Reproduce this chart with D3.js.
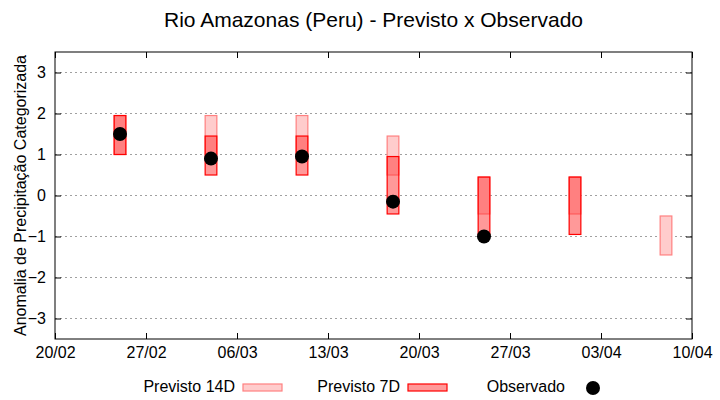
<!DOCTYPE html>
<html>
<head>
<meta charset="utf-8">
<script src="https://cdn.jsdelivr.net/npm/d3@7"></script>
<style>
  body { margin: 0; background: #fff; }
  text { font-family: "Liberation Sans", Arial, sans-serif; }
</style>
</head>
<body>
<div class="chart"></div>
<script>
// semanas (centro de cada caixa)
const dates = ['2023-02-25', '2023-03-04', '2023-03-11', '2023-03-18', '2023-03-25', '2023-04-01', '2023-04-08'];
// previsao 14 dias: limites inferior / superior
const lo14 = [1.0, 1.0, 1.0, 0.5, -0.45, -0.45, -1.45];
const hi14 = [1.95, 1.95, 1.95, 1.45, 0.45, 0.45, -0.5];
// previsao 7 dias
const lo7 = [1.0, 0.5, 0.5, -0.45, -0.95, -0.95, null];
const hi7 = [1.95, 1.45, 1.45, 0.95, 0.45, 0.45, null];
// observado
const obs = [1.5, 0.9, 0.95, -0.15, -1.0, null, null];

const tickDates = ['2023-02-20', '2023-02-27', '2023-03-06', '2023-03-13', '2023-03-20', '2023-03-27', '2023-04-03', '2023-04-10'];
const yTicks = [-3, -2, -1, 0, 1, 2, 3];

const parse = d3.timeParse('%Y-%m-%d');

const data = dates.map((d, i) => ({
  date: parse(d),
  lo14: lo14[i], hi14: hi14[i],
  lo7: lo7[i], hi7: hi7[i],
  obs: obs[i],
}));

const width = 720;
const height = 400;
const margin = { top: 52, right: 28, bottom: 61, left: 55 };

const svg = d3
  .select('.chart')
  .append('svg')
  .attr('width', width)
  .attr('height', height);

const x = d3
  .scaleTime()
  .domain([parse(tickDates[0]), parse(tickDates[tickDates.length - 1])])
  .range([margin.left, width - margin.right]);

const y = d3
  .scaleLinear()
  .domain([-3.5, 3.5])
  .range([height - margin.bottom, margin.top]);

const halfDay = 0.45 * 24 * 3600 * 1000;

// grade
svg
  .append('g')
  .selectAll('line')
  .data(yTicks)
  .enter()
  .append('line')
  .attr('x1', margin.left)
  .attr('x2', width - margin.right)
  .attr('y1', (d) => y(d))
  .attr('y2', (d) => y(d))
  .attr('stroke', '#a0a0a0')
  .attr('stroke-width', 1)
  .attr('stroke-dasharray', '2,3');

// previsto 14D
svg
  .append('g')
  .selectAll('rect')
  .data(data.filter((d) => d.lo14 != null))
  .enter()
  .append('rect')
  .attr('x', (d) => x(new Date(+d.date - halfDay)))
  .attr('width', (d) => x(new Date(+d.date + halfDay)) - x(new Date(+d.date - halfDay)))
  .attr('y', (d) => y(d.hi14))
  .attr('height', (d) => y(d.lo14) - y(d.hi14))
  .attr('fill', '#ffcccc')
  .attr('stroke', '#ff8080')
  .attr('stroke-width', 1.2);

// previsto 7D
svg
  .append('g')
  .selectAll('rect')
  .data(data.filter((d) => d.lo7 != null))
  .enter()
  .append('rect')
  .attr('x', (d) => x(new Date(+d.date - halfDay)))
  .attr('width', (d) => x(new Date(+d.date + halfDay)) - x(new Date(+d.date - halfDay)))
  .attr('y', (d) => y(d.hi7))
  .attr('height', (d) => y(d.lo7) - y(d.hi7))
  .attr('fill', 'rgba(255,55,55,0.51)')
  .attr('stroke', '#ff0000')
  .attr('stroke-width', 1.2);

// observado
svg
  .append('g')
  .selectAll('circle')
  .data(data.filter((d) => d.obs != null))
  .enter()
  .append('circle')
  .attr('cx', (d) => x(d.date))
  .attr('cy', (d) => y(d.obs))
  .attr('r', 7)
  .attr('fill', '#000');

// eixos
const fmt = d3.timeFormat('%d/%m');
const xTickVals = tickDates.map(parse);

svg
  .append('g')
  .attr('transform', `translate(0,${height - margin.bottom})`)
  .call(d3.axisBottom(x).tickValues(xTickVals).tickFormat(fmt).tickSizeInner(-6).tickSizeOuter(0).tickPadding(8));

svg
  .append('g')
  .attr('transform', `translate(0,${margin.top})`)
  .call(d3.axisTop(x).tickValues(xTickVals).tickFormat('').tickSizeInner(-6).tickSizeOuter(0));

svg
  .append('g')
  .attr('transform', `translate(${margin.left},0)`)
  .call(d3.axisLeft(y).tickValues(yTicks).tickFormat(d3.format('d')).tickSizeInner(-6).tickSizeOuter(0).tickPadding(9));

svg
  .append('g')
  .attr('transform', `translate(${width - margin.right},0)`)
  .call(d3.axisRight(y).tickValues(yTicks).tickFormat('').tickSizeInner(-6).tickSizeOuter(0));

svg.selectAll('.domain').remove();
svg.selectAll('.tick line').attr('stroke', '#000');
svg
  .selectAll('.tick text')
  .attr('font-size', 16)
  .attr('fill', '#000')
  .attr('font-family', '"Liberation Sans", Arial, sans-serif');

// moldura
svg
  .append('rect')
  .attr('x', margin.left)
  .attr('y', margin.top)
  .attr('width', width - margin.left - margin.right)
  .attr('height', height - margin.top - margin.bottom)
  .attr('fill', 'none')
  .attr('stroke', '#000')
  .attr('stroke-width', 1);

// titulo
svg
  .append('text')
  .attr('x', (margin.left + width - margin.right) / 2)
  .attr('y', 27)
  .attr('text-anchor', 'middle')
  .attr('font-size', 21)
  .text('Rio Amazonas (Peru) - Previsto x Observado');

svg
  .append('text')
  .attr('transform', `translate(20,${(margin.top + height - margin.bottom) / 2}) rotate(-90)`)
  .attr('text-anchor', 'middle')
  .attr('dy', '0.35em')
  .attr('font-size', 16)
  .text('Anomalia de Precipitação Categorizada');

// legenda
const legend = [
  { label: 'Previsto 14D', x: 235, fill: '#ffcccc', stroke: '#ff8080' },
  { label: 'Previsto 7D', x: 400, fill: '#ff9999', stroke: '#ff0000' },
  { label: 'Observado', x: 565, dot: true },
];

const lg = svg
  .selectAll('.legend')
  .data(legend)
  .enter()
  .append('g')
  .attr('class', 'legend');

lg.append('text')
  .attr('x', (d) => d.x)
  .attr('y', 392)
  .attr('text-anchor', 'end')
  .attr('font-size', 16)
  .text((d) => d.label);

lg.filter((d) => !d.dot)
  .append('rect')
  .attr('x', (d) => d.x + 8)
  .attr('y', 384)
  .attr('width', 39)
  .attr('height', 7)
  .attr('fill', (d) => d.fill)
  .attr('stroke', (d) => d.stroke)
  .attr('stroke-width', 1.2);

lg.filter((d) => d.dot)
  .append('circle')
  .attr('cx', (d) => d.x + 28)
  .attr('cy', 388)
  .attr('r', 7)
  .attr('fill', '#000');
</script>
</body>
</html>
